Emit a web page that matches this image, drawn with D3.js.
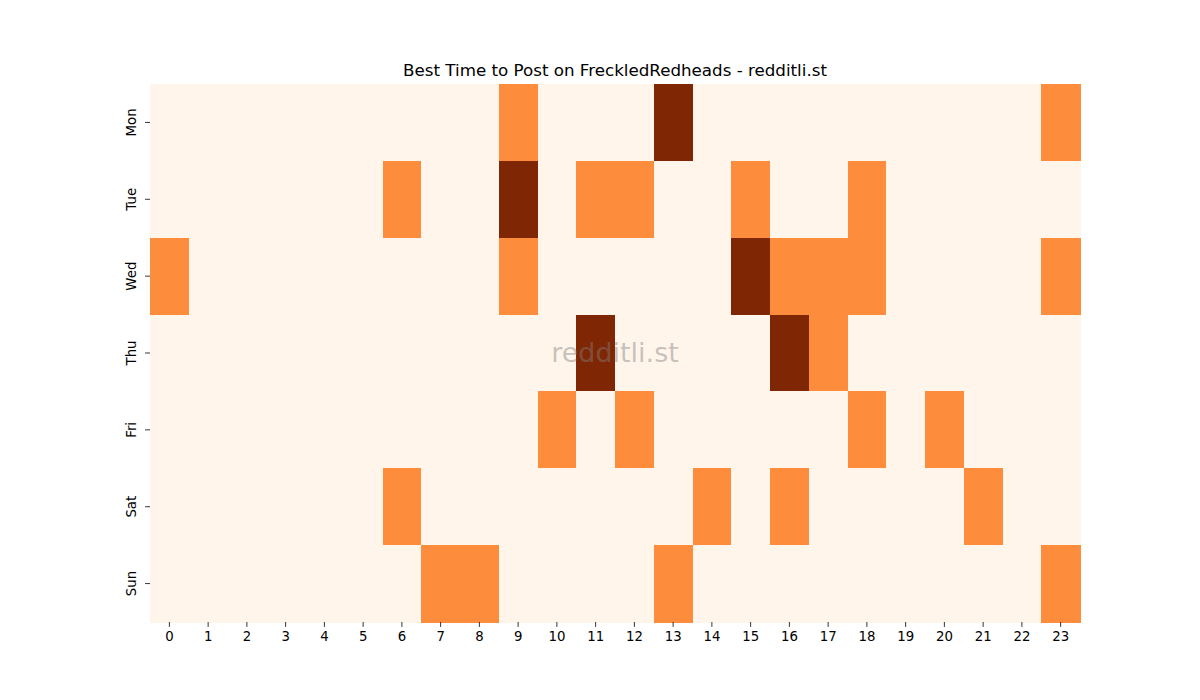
<!DOCTYPE html>
<html><head><meta charset="utf-8">
<script src="https://cdn.jsdelivr.net/npm/d3@7"></script>
<style>body{margin:0;background:#fff}svg{display:block}text{font-family:"DejaVu Sans",sans-serif}</style>
</head><body>
<svg id="c" width="1200" height="700"></svg>
<script>
const days = ["Mon","Tue","Wed","Thu","Fri","Sat","Sun"];
const hours = ["0","1","2","3","4","5","6","7","8","9","10","11","12","13","14","15","16","17","18","19","20","21","22","23"];
// level per hour (0 = low, 1 = mid, 2 = high)
const mon = [0,0,0,0,0,0,0,0,0,1,0,0,0,2,0,0,0,0,0,0,0,0,0,1];
const tue = [0,0,0,0,0,0,1,0,0,2,0,1,1,0,0,1,0,0,1,0,0,0,0,0];
const wed = [1,0,0,0,0,0,0,0,0,1,0,0,0,0,0,2,1,1,1,0,0,0,0,1];
const thu = [0,0,0,0,0,0,0,0,0,0,0,2,0,0,0,0,2,1,0,0,0,0,0,0];
const fri = [0,0,0,0,0,0,0,0,0,0,1,0,1,0,0,0,0,0,1,0,1,0,0,0];
const sat = [0,0,0,0,0,0,1,0,0,0,0,0,0,0,1,0,1,0,0,0,0,1,0,0];
const sun = [0,0,0,0,0,0,0,1,1,0,0,0,0,1,0,0,0,0,0,0,0,0,0,1];
const rows = [mon,tue,wed,thu,fri,sat,sun];
const title = "Best Time to Post on FreckledRedheads - redditli.st";

const svg = d3.select("#c");
const L=150,R=1080,T=84,B=622;
const x = d3.scaleBand().domain(hours).range([L,R]);
const y = d3.scaleBand().domain(days).range([T,B]);
const color = d3.scaleOrdinal().domain([0,1,2]).range(["#fff5eb","#fd8d3c","#7f2704"]);

const cells = [];
rows.forEach((r,i)=>r.forEach((v,j)=>cells.push({d:days[i],h:hours[j],v})));
svg.append("g").selectAll("rect").data(cells).join("rect")
  .attr("x",d=>x(d.h)).attr("y",d=>y(d.d))
  .attr("width",x.bandwidth()+0.5).attr("height",y.bandwidth()+0.5)
  .attr("fill",d=>color(d.v)).attr("shape-rendering","crispEdges");

const xa = svg.append("g").attr("transform",`translate(0,${B})`)
  .call(d3.axisBottom(x).tickSize(4.9).tickPadding(4.5));
xa.select(".domain").remove();
xa.selectAll("text").attr("font-size","13.3px").attr("fill","#000").style("font-family","DejaVu Sans");
xa.selectAll("line").attr("stroke","#000").attr("stroke-width",0.8);

const ya = svg.append("g").attr("transform",`translate(${L},0)`)
  .call(d3.axisLeft(y).tickSize(4.9).tickPadding(4.5));
ya.select(".domain").remove();
ya.selectAll("line").attr("stroke","#000").attr("stroke-width",0.8);
ya.selectAll("text").attr("font-size","13.3px").attr("fill","#000").style("font-family","DejaVu Sans")
  .attr("text-anchor","middle").attr("dy",null).attr("x",null)
  .attr("transform","translate(-14,0) rotate(-90)").attr("dominant-baseline","auto").attr("y",0);

svg.append("text").attr("x",(L+R)/2).attr("y",76).attr("text-anchor","middle")
  .attr("font-size","16.7px").attr("fill","#000").text(title);

svg.append("text").attr("x",(L+R)/2).attr("y",362).attr("text-anchor","middle")
  .attr("font-size","27px").attr("fill","#808080").attr("fill-opacity",0.45).text("redditli.st");
</script>
</body></html>
